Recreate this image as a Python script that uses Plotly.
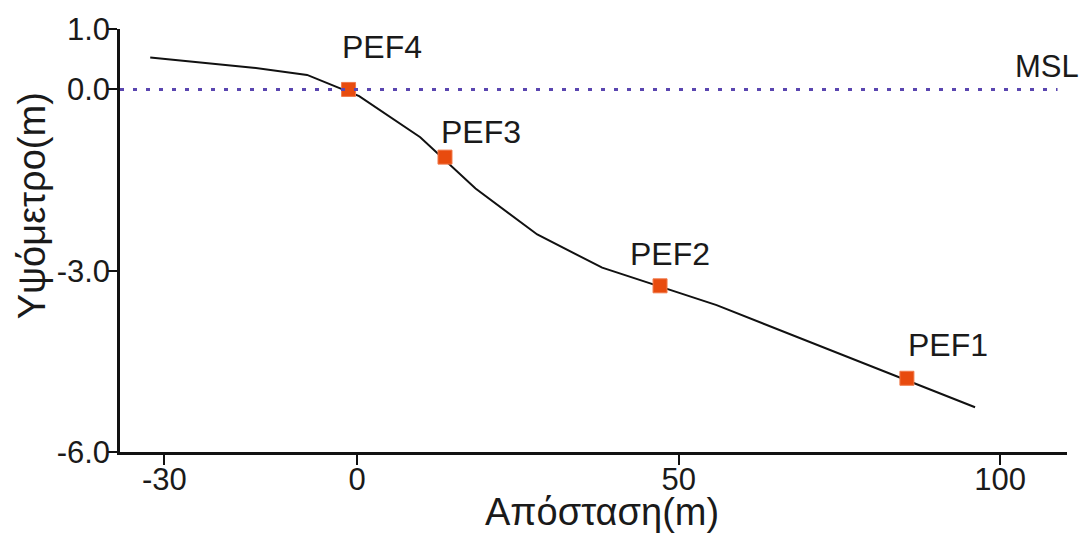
import plotly.graph_objects as go

# ---- data ----
profile_x = [-32.2, -16.2, -7.8, 0.3, 9.8, 18.4, 28.0, 38.1, 55.9, 96.1]
profile_y = [0.53, 0.36, 0.24, -0.11, -0.79, -1.64, -2.40, -2.95, -3.57, -5.26]

pef_names = ["PEF4", "PEF3", "PEF2", "PEF1"]
pef_x = [-1.35, 13.65, 47.1, 85.5]
pef_y = [0.0, -1.12, -3.25, -4.78]

msl_level = 0.0
msl_label = "MSL"

x_ticks = [-30, 0, 50, 100]
x_tick_text = ["-30", "0", "50", "100"]
y_ticks = [1.0, 0.0, -3.0, -6.0]
y_tick_text = ["1.0", "0.0", "-3.0", "-6.0"]

x_title = "Απόσταση(m)"
y_title = "Υψόμετρο(m)"

# ---- style ----
FONT = "Liberation Sans, Arial, sans-serif"
label_shift = [(33, 42), (36, 25), (10, 32), (41, 33)]

fig = go.Figure()

fig.add_trace(go.Scatter(
    x=profile_x, y=profile_y, mode="lines",
    line=dict(color="#111111", width=2), showlegend=False, hoverinfo="skip"))

fig.add_trace(go.Scatter(
    x=pef_x, y=pef_y, mode="markers",
    marker=dict(symbol="square", size=14, color="#E84B0E",
                line=dict(color="#F07A4A", width=1)),
    showlegend=False))

fig.add_shape(type="line", xref="paper", yref="y", x0=0, x1=0.99,
              y0=msl_level, y1=msl_level,
              line=dict(color="#5A46B0", width=3, dash="4px,9px"))

for name, x, y, (dx, dy) in zip(pef_names, pef_x, pef_y, label_shift):
    fig.add_annotation(x=x, y=y, xref="x", yref="y", text=name, showarrow=False,
                       xshift=dx, yshift=dy, xanchor="center", yanchor="middle",
                       font=dict(family=FONT, size=32, color="#1a1a1a"))

fig.add_annotation(x=107.3, y=msl_level, xref="x", yref="y", text=msl_label,
                   showarrow=False, yshift=23, xanchor="center", yanchor="middle",
                   font=dict(family=FONT, size=31, color="#1a1a1a"))

fig.add_annotation(x=0.509, y=-0.143, xref="paper", yref="paper", text=x_title,
                   showarrow=False, xanchor="center", yanchor="middle",
                   font=dict(family=FONT, size=38, color="#1a1a1a"))
fig.add_annotation(x=-0.093, y=0.583, xref="paper", yref="paper", text=y_title,
                   showarrow=False, textangle=-90, xanchor="center", yanchor="middle",
                   font=dict(family=FONT, size=38, color="#1a1a1a"))

fig.update_xaxes(range=[-36.9, 110.4], tickvals=x_ticks, ticktext=x_tick_text,
                 showgrid=False, zeroline=False, showline=True,
                 linecolor="#111111", linewidth=2.5,
                 ticks="outside", ticklen=10, tickwidth=2, tickcolor="#111111",
                 ticklabelstandoff=-12,
                 tickfont=dict(family=FONT, size=31, color="#1a1a1a"))
fig.update_yaxes(range=[-6, 1], tickvals=y_ticks, ticktext=y_tick_text,
                 showgrid=False, zeroline=False, showline=True,
                 linecolor="#111111", linewidth=2.5,
                 ticks="outside", ticklen=10, tickwidth=2, tickcolor="#111111",
                 ticklabelstandoff=-9,
                 tickfont=dict(family=FONT, size=31, color="#1a1a1a"))

fig.update_layout(
    width=1082, height=535,
    margin=dict(l=120, r=15, t=25, b=83),
    paper_bgcolor="white", plot_bgcolor="white",
    font=dict(family=FONT),
    showlegend=False,
)

fig.write_html("out.html")
